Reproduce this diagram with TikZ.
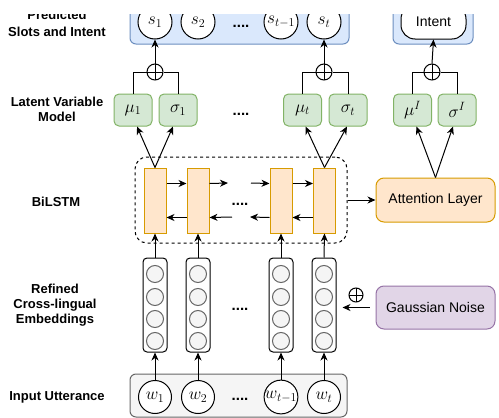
\documentclass[tikz,border=0pt]{standalone}
\usepackage[no-math]{fontspec}
\setmainfont{Liberation Sans}
\usetikzlibrary{arrows.meta}

\definecolor{slotfill}{HTML}{DAE8FC}
\definecolor{slotdraw}{HTML}{6C8EBF}
\definecolor{latentfill}{HTML}{D5E8D4}
\definecolor{latentdraw}{HTML}{82B366}
\definecolor{cellfill}{HTML}{FFE6CC}
\definecolor{celldraw}{HTML}{D79B00}
\definecolor{noisefill}{HTML}{E1D5E7}
\definecolor{noisedraw}{HTML}{9673A6}
\definecolor{greyfill}{HTML}{F5F5F5}
\definecolor{greydraw}{HTML}{666666}

\begin{document}
\begin{tikzpicture}[x=1pt, y=-1pt, line width=1pt,
  arr/.style={-{Stealth[length=8pt,width=7pt,inset=2.5pt]}},
  slot/.style={circle, draw, fill=white, minimum size=34pt, inner sep=0pt, font=\fontsize{17}{20}\selectfont},
  latent/.style={draw=latentdraw, fill=latentfill, rounded corners=5pt, minimum width=38pt, minimum height=32pt, inner sep=0pt, font=\fontsize{17}{20}\selectfont},
  cell/.style={draw=celldraw, fill=cellfill, minimum width=22pt, minimum height=65pt, inner sep=0pt},
  emb/.style={draw, fill=white, rounded corners=4pt, minimum width=24pt, minimum height=94pt, inner sep=0pt},
  neuron/.style={circle, draw=greydraw, fill=greyfill, minimum size=17pt, inner sep=0pt},
  oplus/.style={circle, draw, minimum size=#1, inner sep=0pt, path picture={
    \draw (path picture bounding box.north) -- (path picture bounding box.south)
          (path picture bounding box.west) -- (path picture bounding box.east);}},
  block/.style={rounded corners=8pt, minimum height=44pt, inner sep=0pt, font=\fontsize{14}{17}\selectfont},
  sidelabel/.style={align=center, font=\fontsize{13}{15}\selectfont\bfseries},
  ellipsis/.style={anchor=base, inner sep=0pt, font=\fontsize{15}{18}\selectfont\bfseries}]

\useasboundingbox (0,0) rectangle (499,418);
\begin{scope}
\clip (0,14.5) rectangle (499,418);

% side labels
\node (lout) [sidelabel, font=\fontsize{13}{17}\selectfont\bfseries] at (57,23) {Predicted\\Slots and Intent};
\node (llat) [sidelabel] at (57,109.5) {Latent Variable\\Model};
\node (llstm) [sidelabel] at (56,202) {BiLSTM};
\node (lemb) [sidelabel] at (55,305) {Refined\\Cross-lingual\\Embeddings};
\node (lin) [sidelabel] at (57,397) {Input Utterance};

% output
\node (outbox) [draw=slotdraw, fill=slotfill, rounded corners=6pt, minimum width=219pt, minimum height=54pt] at (239.5,17) {};
\node (s1) [slot] at (155,22) {$s_1$};
\node (s2) [slot] at (198,22) {$s_2$};
\node (s3) [slot] at (281,22) {$s_{t-1}$};
\node (s4) [slot] at (324,22) {$s_t$};
\node (d1) [ellipsis] at (241,27) {....};
\node (intbox) [draw=slotdraw, fill=slotfill, rounded corners=6pt, minimum width=80pt, minimum height=54pt] at (433,17) {};
\node (intent) [draw, fill=white, rounded corners=14pt, minimum width=65pt, minimum height=34pt, font=\fontsize{14}{17}\selectfont] at (433.5,22) {Intent};

% latent variables
\node (p1) [oplus=16pt] at (155,72) {};
\node (p4) [oplus=16pt] at (324,72) {};
\node (pI) [oplus=16pt] at (432,72) {};
\node (mu1) [latent] at (133,110) {$\mu_1$};
\node (sg1) [latent] at (178,110) {$\sigma_1$};
\node (mu4) [latent] at (302.5,110) {$\mu_t$};
\node (sg4) [latent] at (348,110) {$\sigma_t$};
\node (muI) [latent] at (412.5,110) {$\mu^I$};
\node (sgI) [latent] at (457,110) {$\sigma^I$};
\node (d2) [ellipsis] at (241,115) {....};

\draw (mu1.north) |- (p1.west);
\draw (sg1.north) |- (p1.east);
\draw (mu4.north) |- (p4.west);
\draw (sg4.north) |- (p4.east);
\draw (muI.north) |- (pI.west);
\draw (sgI.north) |- (pI.east);
\draw[arr] (p1.north) -- (s1.south);
\draw[arr] (p4.north) -- (s4.south);
\draw[arr] (pI.north) -- (intent.south);

% bilstm
\node (lstm) [draw, dashed, rounded corners=12pt, minimum width=212pt, minimum height=86pt] at (241,200) {};
\node (c1) [cell] at (155,200.5) {};
\node (c2) [cell] at (198,200.5) {};
\node (c3) [cell] at (281,200.5) {};
\node (c4) [cell] at (324.5,200.5) {};
\node (d3) [ellipsis] at (240,205) {....};
\coordinate (fo) at (228,183);
\coordinate (fi) at (251,183);
\coordinate (bo) at (212,217);
\coordinate (bi) at (232,217);
\coordinate (bo2) at (250,217);

\draw[arr] ([yshift=17pt]c1.east) -- ([yshift=17pt]c2.west);
\draw[arr] ([yshift=17pt]c2.east) -- (fo);
\draw[arr] (fi) -- ([yshift=17pt]c3.west);
\draw[arr] ([yshift=17pt]c3.east) -- ([yshift=17pt]c4.west);
\draw[arr] ([yshift=-17pt]c4.west) -- ([yshift=-17pt]c3.east);
\draw[arr] ([yshift=-17pt]c3.west) -- (bo2);
\draw[arr] (bi) -- ([yshift=-17pt]c2.east);
\draw[arr] ([yshift=-17pt]c2.west) -- ([yshift=-17pt]c1.east);

\draw[arr] (c1.north) -- ([xshift=4pt]mu1.south);
\draw[arr] (c1.north) -- ([xshift=-5pt]sg1.south);
\draw[arr] (c4.north) -- ([xshift=3pt]mu4.south);
\draw[arr] (c4.north) -- ([xshift=-1pt]sg4.south);

% attention
\node (att) [block, draw=celldraw, fill=cellfill, minimum width=119pt] at (435.5,200) {Attention Layer};
\draw[arr] (lstm.east) -- (att.west);
\draw[arr] (att.north) -- ([xshift=4pt]muI.south);
\draw[arr] (att.north) -- ([xshift=-4pt]sgI.south);

% embeddings
\node (e1) [emb] at (155,305) {};
\node (e2) [emb] at (198,305) {};
\node (e3) [emb] at (281,305) {};
\node (e4) [emb] at (324,305) {};
\foreach \c in {1,...,4}
  \foreach \k/\y in {1/274,2/297,3/319,4/341}
    \node (n\c\k) [neuron] at (e\c |- 0,\y) {};
\node (d4) [ellipsis] at (240,310) {....};
\draw[arr] (e1.north) -- (c1.south);
\draw[arr] (e2.north) -- (c2.south);
\draw[arr] (e3.north) -- (c3.south);
\draw[arr] (e4.north) -- (c4.south);

% noise
\node (noise) [block, draw=noisedraw, fill=noisefill, minimum width=119pt, minimum height=43pt] at (435.5,307.5) {Gaussian Noise};
\node (np) [oplus=14pt] at (356,295) {};
\draw[arr, shorten <=6pt, shorten >=6pt] (noise.west) -- (noise.west -| e4.east);

% input
\node (inbox) [draw=greydraw, fill=greyfill, rounded corners=6pt, minimum width=217pt, minimum height=43pt] at (238.5,395.5) {};
\node (w1) [slot, minimum size=33pt] at (155,397) {$w_1$};
\node (w2) [slot, minimum size=33pt] at (198,397) {$w_2$};
\node (w3) [slot, minimum size=33pt] at (281,397) {$w_{t-1}$};
\node (w4) [slot, minimum size=33pt] at (324,397) {$w_t$};
\node (d5) [ellipsis] at (240,400) {....};
\draw[arr] (w1.north) -- (e1.south);
\draw[arr] (w2.north) -- (e2.south);
\draw[arr] (w3.north) -- (e3.south);
\draw[arr] (w4.north) -- (e4.south);

\end{scope}
\end{tikzpicture}
\end{document}
